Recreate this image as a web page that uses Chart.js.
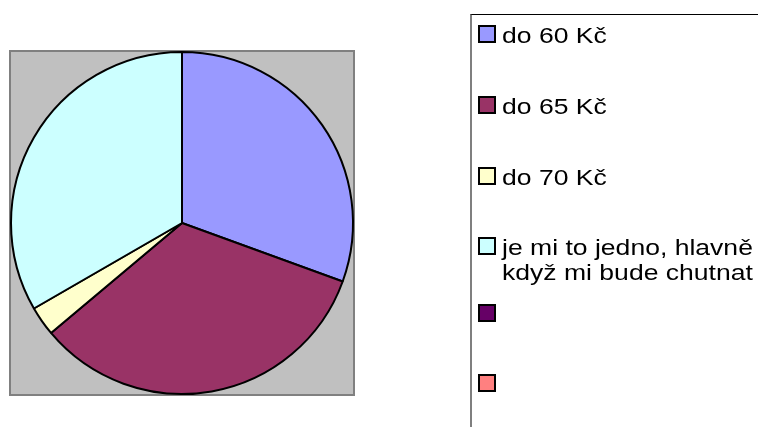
<!DOCTYPE html>
<html>
<head>
<meta charset="utf-8">
<script src="https://cdn.jsdelivr.net/npm/chart.js@4/dist/chart.umd.min.js"></script>
<style>
  html, body { margin: 0; padding: 0; background: #fff; }
  #wrap { position: relative; width: 758px; height: 427px; overflow: hidden; }
  #chart { position: absolute; left: 0; top: 0; }
  #legend {
    position: absolute; left: 470px; top: 14px; width: 320px; height: 440px;
    border-top: 1px solid #000; border-left: 2px solid #7f7f7f;
  }
  .item { position: absolute; left: 0; }
  .box { position: absolute; left: 6px; width: 18px; height: 18px; box-sizing: border-box; border: 2px solid #000; }
  .txt {
    position: absolute; left: 30px; white-space: nowrap;
    font-family: "Liberation Sans", Arial, sans-serif; font-size: 22.5px; line-height: 25px; color: #000;
    transform: scaleX(1.18); transform-origin: 0 0;
  }
</style>
</head>
<body>
<div id="wrap">
  <canvas id="chart" width="758" height="427"></canvas>
  <div id="legend"></div>
</div>
<script>
// data
const labels = ['do 60 Kč', 'do 65 Kč', 'do 70 Kč', ['je mi to jedno, hlavně', 'když mi bude chutnat'], '', ''];
const values = [11, 12, 1, 12, 0, 0];
const colors = ['#9999FF', '#993366', '#FFFFCC', '#CCFFFF', '#660066', '#FF8080'];

// legend row tops (relative to legend box)
const rowTops = [10, 81, 152, 222, 289, 359];

const plotArea = {
  id: 'plotArea',
  beforeDraw(chart) {
    const ctx = chart.ctx;
    ctx.save();
    ctx.fillStyle = '#C0C0C0';
    ctx.fillRect(9, 50, 346, 346);
    ctx.strokeStyle = '#808080';
    ctx.lineWidth = 2;
    ctx.strokeRect(10, 51, 344, 344);
    ctx.restore();
  }
};

new Chart(document.getElementById('chart').getContext('2d'), {
  type: 'pie',
  data: {
    labels: labels.map(l => Array.isArray(l) ? l.join(' ') : l),
    datasets: [{
      data: values,
      backgroundColor: colors,
      borderColor: '#000',
      borderWidth: 2
    }]
  },
  options: {
    responsive: false,
    animation: false,
    layout: { padding: { left: 10, top: 51, right: 404, bottom: 32 } },
    plugins: { legend: { display: false }, tooltip: { enabled: false } }
  },
  plugins: [plotArea]
});

// legend
const legend = document.getElementById('legend');
labels.forEach((l, i) => {
  const item = document.createElement('div');
  item.className = 'item';
  item.style.top = rowTops[i] + 'px';
  const box = document.createElement('div');
  box.className = 'box';
  box.style.top = '0px';
  box.style.background = colors[i];
  const txt = document.createElement('div');
  txt.className = 'txt';
  txt.style.top = '-2px';
  txt.innerHTML = (Array.isArray(l) ? l : [l]).join('<br>');
  item.appendChild(box);
  item.appendChild(txt);
  legend.appendChild(item);
});
</script>
</body>
</html>
